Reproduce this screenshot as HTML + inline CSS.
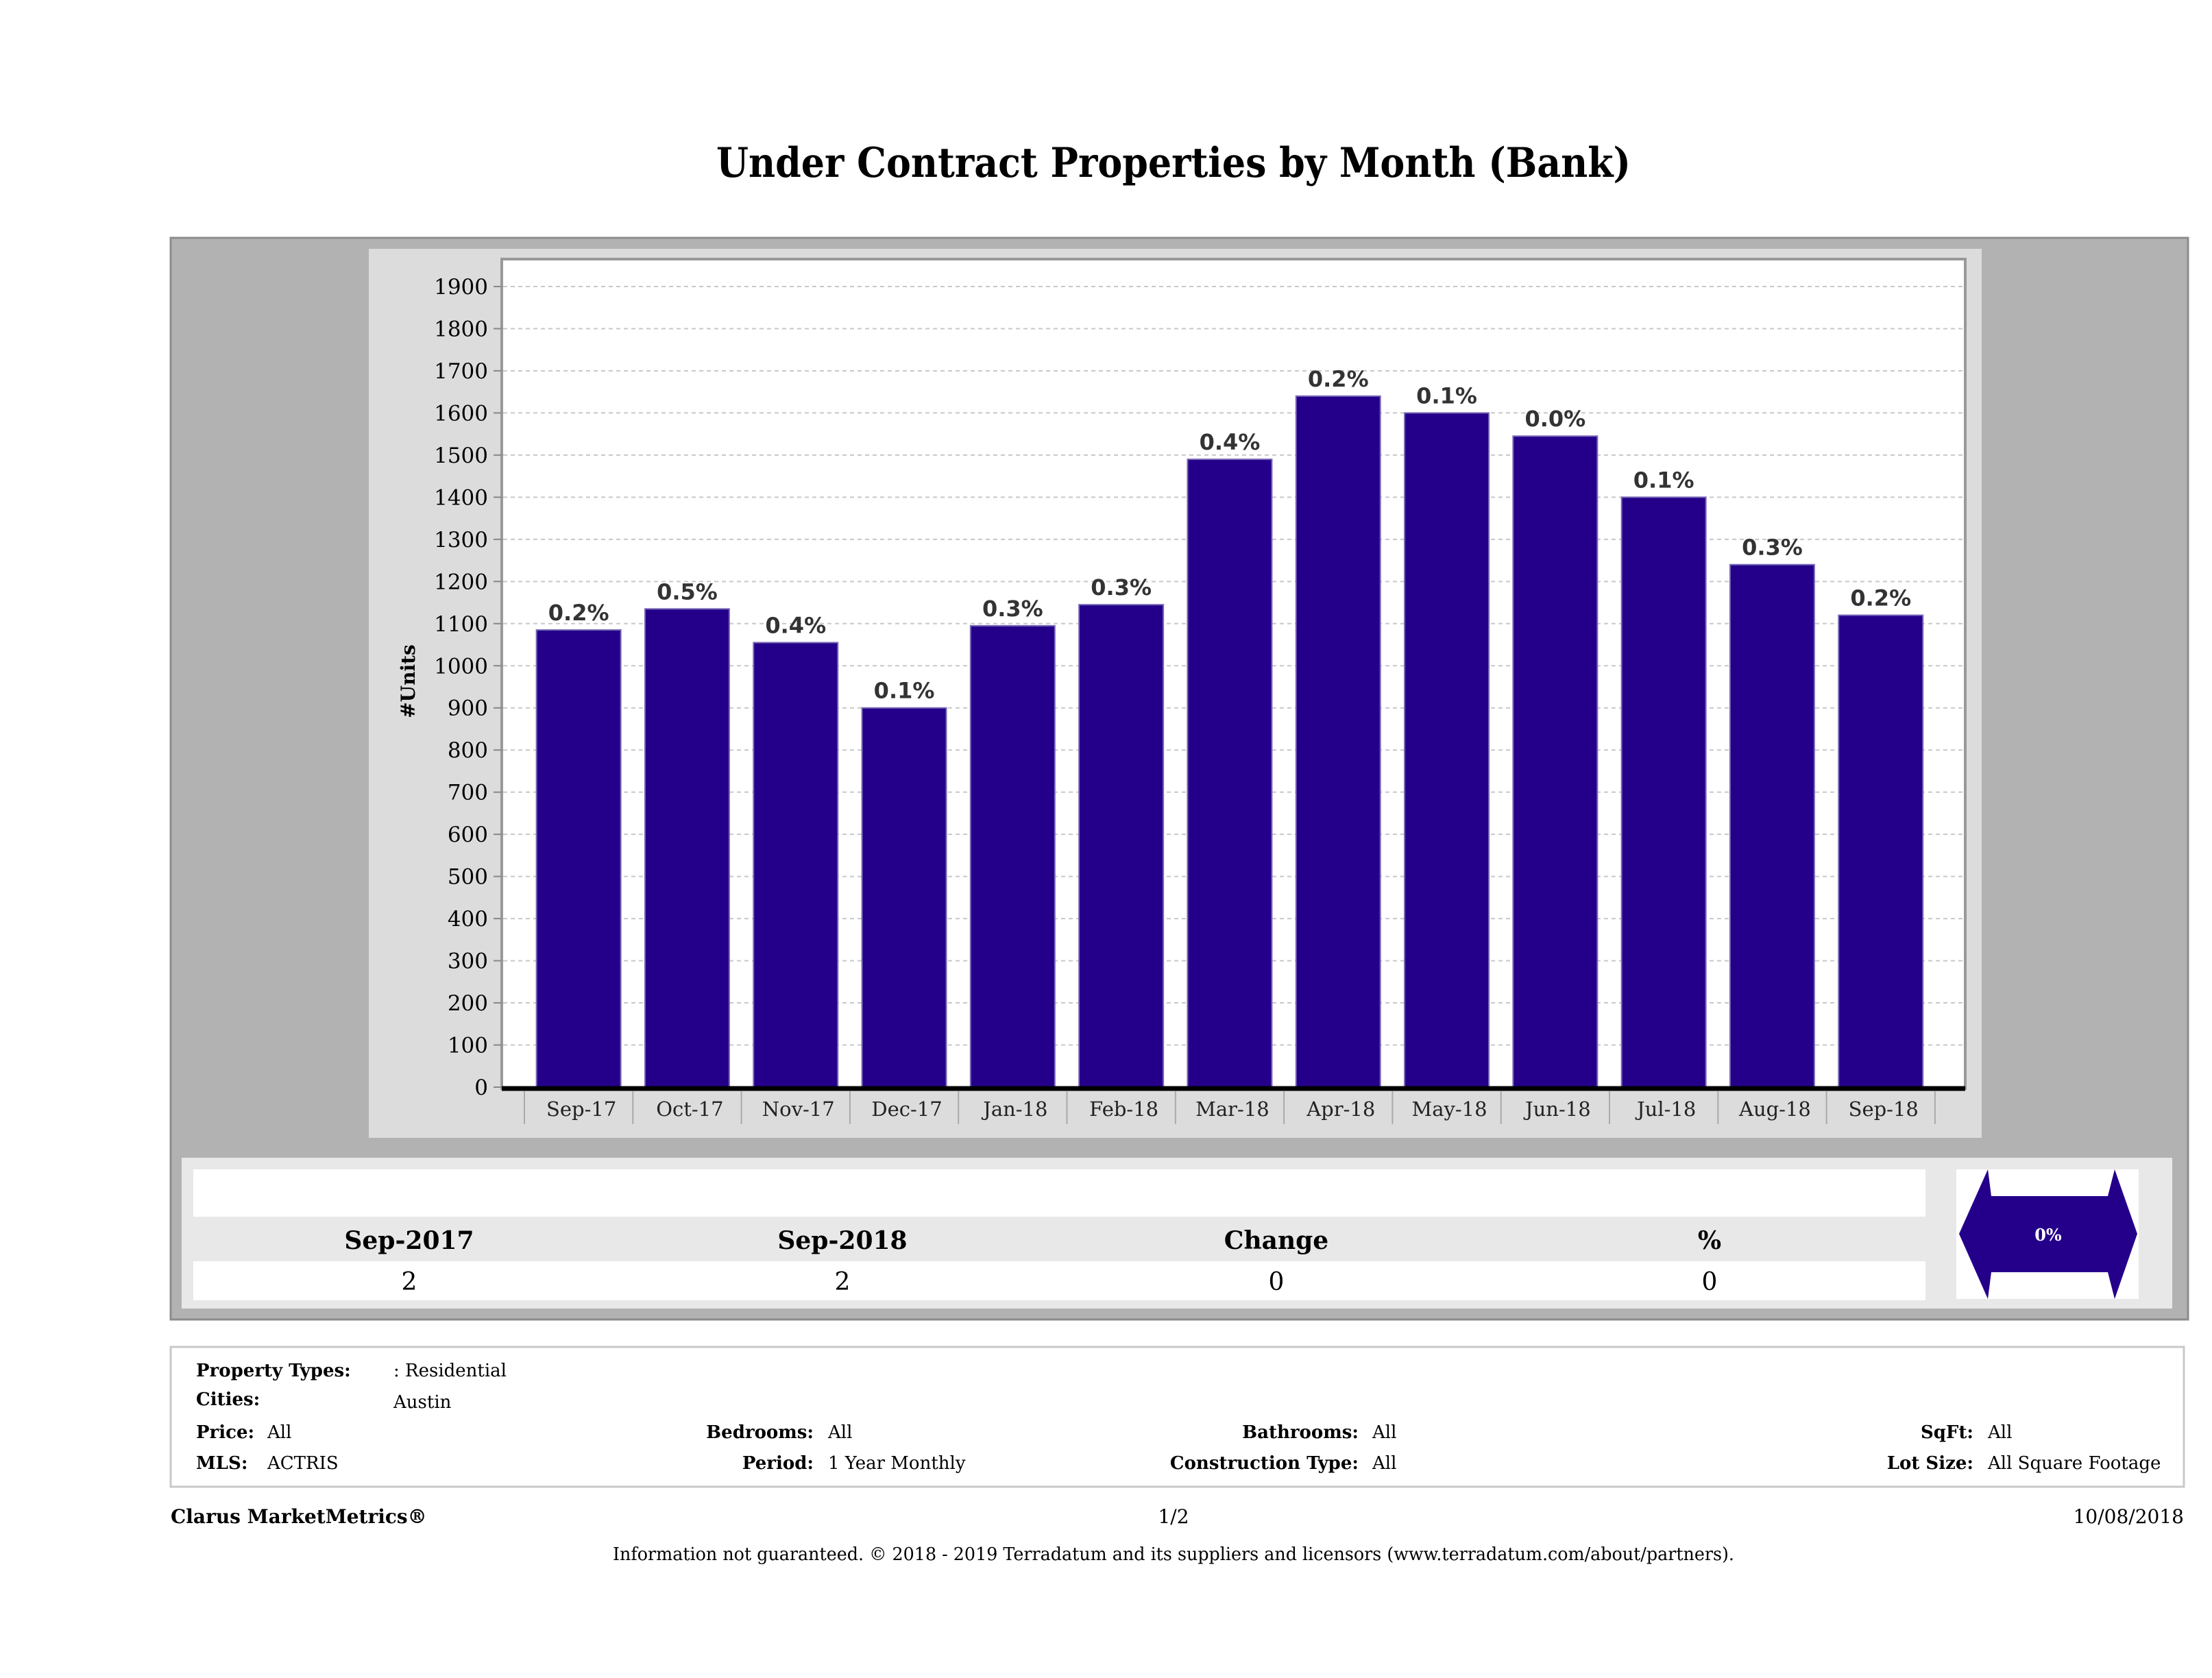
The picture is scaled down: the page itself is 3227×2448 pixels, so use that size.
<!DOCTYPE html>
<html><head><meta charset="utf-8"><style>
html,body{margin:0;padding:0;background:#fff;}
svg{display:block;}
</style></head><body>
<svg id="chart" width="3227" height="2448" viewBox="0 0 3227 2448" xmlns="http://www.w3.org/2000/svg">
<text x="1712" y="258" text-anchor="middle" font-family="DejaVu Serif, serif" font-weight="bold" font-size="60" textLength="1334" lengthAdjust="spacingAndGlyphs">Under Contract Properties by Month (Bank)</text>
<rect x="249" y="347" width="2943" height="1578" fill="#b2b2b2" stroke="#8c8c8c" stroke-width="3"/>
<rect x="538" y="363" width="2353" height="1297" fill="#dcdcdc"/>
<rect x="732" y="378" width="2135" height="1210" fill="#fff" stroke="#999" stroke-width="4"/>
<g id="grid"></g>
<g id="bars"></g>
<g id="axes"></g>
<text transform="translate(605,994) rotate(-90)" text-anchor="middle" font-family="DejaVu Serif, serif" font-weight="bold" font-size="28">#Units</text>

<rect x="265" y="1689" width="2904" height="220" fill="#e8e8e8"/>
<rect x="282" y="1706" width="2527" height="69" fill="#fff"/>
<rect x="282" y="1840" width="2527" height="57" fill="#fff"/>
<g font-family="DejaVu Serif, serif" font-size="36" text-anchor="middle">
<text x="597" y="1822" font-weight="bold">Sep-2017</text>
<text x="1229" y="1822" font-weight="bold">Sep-2018</text>
<text x="1862" y="1822" font-weight="bold">Change</text>
<text x="2494" y="1822" font-weight="bold">%</text>
<text x="597" y="1882">2</text>
<text x="1229" y="1882">2</text>
<text x="1862" y="1882">0</text>
<text x="2494" y="1882">0</text>
</g>
<rect x="2854" y="1706" width="266" height="189" fill="#fff"/>
<polygon points="2858,1800 2900,1706 2905,1745 3075,1745 3085,1706 3118,1800 3085,1895 3075,1856 2905,1856 2900,1895" fill="#24008a"/>
<text x="2988" y="1810" text-anchor="middle" fill="#fff" font-family="DejaVu Serif, serif" font-weight="bold" font-size="24">0%</text>

<rect x="249" y="1965" width="2937" height="204" fill="#fff" stroke="#c8c8c8" stroke-width="3"/>
<g font-family="DejaVu Serif, serif" font-size="26">
<text x="286" y="2008" font-weight="bold">Property Types:</text>
<text x="574" y="2008">: Residential</text>
<text x="286" y="2050" font-weight="bold">Cities:</text>
<text x="574" y="2054">Austin</text>
<text x="286" y="2098" font-weight="bold">Price:</text>
<text x="390" y="2098">All</text>
<text x="286" y="2143" font-weight="bold">MLS:</text>
<text x="390" y="2143">ACTRIS</text>
<text x="1187" y="2098" text-anchor="end" font-weight="bold">Bedrooms:</text>
<text x="1208" y="2098">All</text>
<text x="1187" y="2143" text-anchor="end" font-weight="bold">Period:</text>
<text x="1208" y="2143">1 Year Monthly</text>
<text x="1982" y="2098" text-anchor="end" font-weight="bold">Bathrooms:</text>
<text x="2002" y="2098">All</text>
<text x="1982" y="2143" text-anchor="end" font-weight="bold">Construction Type:</text>
<text x="2002" y="2143">All</text>
<text x="2879" y="2098" text-anchor="end" font-weight="bold">SqFt:</text>
<text x="2900" y="2098">All</text>
<text x="2879" y="2143" text-anchor="end" font-weight="bold">Lot Size:</text>
<text x="2900" y="2143">All Square Footage</text>
<text x="249" y="2222" font-weight="bold" font-size="28">Clarus MarketMetrics®</text>
<text x="1712" y="2222" text-anchor="middle" font-size="28">1/2</text>
<text x="3186" y="2222" text-anchor="end" font-size="28">10/08/2018</text>
<text x="1712" y="2276" text-anchor="middle" textLength="1636" lengthAdjust="spacingAndGlyphs">Information not guaranteed. © 2018 - 2019 Terradatum and its suppliers and licensors (www.terradatum.com/about/partners).</text>
</g>
</svg>
<script>
const categories = ["Sep-17","Oct-17","Nov-17","Dec-17","Jan-18","Feb-18","Mar-18","Apr-18","May-18","Jun-18","Jul-18","Aug-18","Sep-18"];
const units = [1085,1135,1055,900,1095,1145,1490,1640,1600,1545,1400,1240,1120];
const pctLabels = ["0.2%","0.5%","0.4%","0.1%","0.3%","0.3%","0.4%","0.2%","0.1%","0.0%","0.1%","0.3%","0.2%"];
const yTicks = [0,100,200,300,400,500,600,700,800,900,1000,1100,1200,1300,1400,1500,1600,1700,1800,1900];

const NS = "http://www.w3.org/2000/svg";
const Y0 = 1586, YPER = (1586 - 418) / 1900;
const X0 = 765, BAND = 158.3, BW = 123;
function yScale(v){ return Y0 - v * YPER; }
function xBand(i){ return X0 + i * BAND; }
function mk(tag, attrs, parent){
  const e = document.createElementNS(NS, tag);
  for (const k in attrs) e.setAttribute(k, attrs[k]);
  parent.appendChild(e);
  return e;
}
const grid = document.getElementById('grid');
const bars = document.getElementById('bars');
const axes = document.getElementById('axes');

yTicks.forEach(t => {
  const y = yScale(t);
  if (t > 0) {
    const g = mk('line', {x1:734, x2:2865, y1:y, y2:y, stroke:'#c8c8c8', 'stroke-width':2, 'stroke-dasharray':'6,5'}, grid);
    
    
  }
  const tk = mk('line', {x1:720, x2:732, y1:y, y2:y, stroke:'#888', 'stroke-width':2}, axes);
  
  
  const lb = mk('text', {x:712, y:y + 11, 'text-anchor':'end', 'font-family':'DejaVu Serif, serif', 'font-size':31}, axes);
  lb.textContent = t;
  
  
});

categories.forEach((c, i) => {
  const cx = xBand(i) + BAND / 2;
  const y = yScale(units[i]);
  const r = mk('rect', {x:cx - BW/2, y:y, width:BW, height:Y0 - y, fill:'#24008a', stroke:'#7a6ab8', 'stroke-width':2}, bars);
  
  
  const t = mk('text', {x:cx, y:y - 14, 'text-anchor':'middle', 'font-family':'DejaVu Sans, sans-serif', 'font-weight':'bold', 'font-size':32, fill:'#333'}, bars);
  t.textContent = pctLabels[i];
  
  
  const xl = mk('text', {x:cx + 4, y:1628, 'text-anchor':'middle', 'font-family':'DejaVu Serif, serif', 'font-size':29, fill:'#222'}, axes);
  xl.textContent = c;
  
  
  const sep = mk('line', {x1:xBand(i), x2:xBand(i), y1:1592, y2:1640, stroke:'#aaa', 'stroke-width':2}, axes);
  
  
});
const sepEnd = mk('line', {x1:xBand(categories.length), x2:xBand(categories.length), y1:1592, y2:1640, stroke:'#aaa', 'stroke-width':2}, axes);


const ax = mk('line', {x1:732, x2:2867, y1:Y0 + 2, y2:Y0 + 2, stroke:'#000', 'stroke-width':7}, axes);


</script>
</body></html>
